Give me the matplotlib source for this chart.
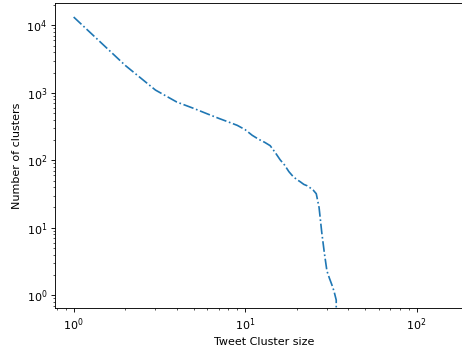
import matplotlib
matplotlib.use("Agg")
import matplotlib.pyplot as plt

# cluster size vs number of clusters
cluster_size = [1, 2, 3, 4, 5, 6, 7, 8, 9, 10, 11, 12, 13, 14, 15, 16, 17,
                18, 19, 20, 21, 22, 23, 24, 25, 26, 27, 28, 29, 30, 31, 32,
                33, 34, 35]
n_clusters = [13300, 2550, 1100, 730, 590, 490, 420, 370, 330, 285, 235, 205,
              185, 165, 130, 102, 85, 68, 58, 52, 48, 44, 42, 39, 36, 32,
              20, 8.5, 4.2, 2.3, 1.8, 1.45, 1.15, 0.85, 0]

# picture is a shrunk default matplotlib figure, so render at 80 dpi
fig = plt.figure(figsize=(462 / 80, 353 / 80), dpi=80)
ax = fig.add_axes([0.119, 0.1266, 0.906, 0.864])

ax.plot(cluster_size, n_clusters, linestyle="-.", color="C0")
ax.set_xscale("log")
ax.set_yscale("log", nonpositive="clip")
ax.set_xlim(0.778, 215)
ax.set_ylim(0.641, 21240)

ax.set_xlabel("Tweet Cluster size")
ax.set_ylabel("Number of clusters")

fig.savefig("out.png", dpi=80)
